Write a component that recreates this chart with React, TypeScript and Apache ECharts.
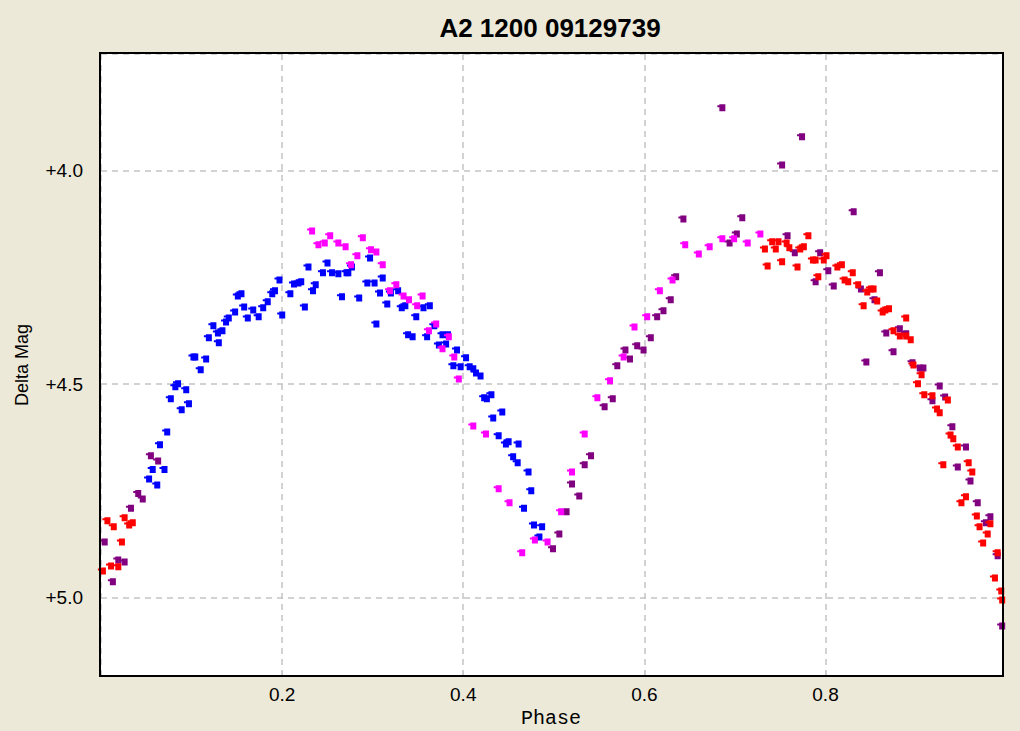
import React, { useEffect, useRef } from 'react';
import * as echarts from 'echarts';

const TITLE = 'A2 1200 09129739';
const X_NAME = 'Phase';
const Y_NAME = 'Delta Mag';

const X_MIN = 0;
const X_MAX = 0.996;
const Y_MIN = 3.726;
const Y_MAX = 5.184;

// [phase, delta mag]
const bluePoints: [number, number][] = [
  [0.052, 4.722], [0.061, 4.736], [0.056, 4.700], [0.069, 4.700], [0.064, 4.642],
  [0.072, 4.612], [0.076, 4.534], [0.088, 4.560], [0.096, 4.546], [0.081, 4.506],
  [0.084, 4.499], [0.093, 4.513], [0.109, 4.466], [0.103, 4.436], [0.115, 4.441],
  [0.101, 4.436], [0.118, 4.391], [0.129, 4.403], [0.123, 4.363], [0.128, 4.380],
  [0.133, 4.375], [0.137, 4.354], [0.140, 4.345], [0.147, 4.331], [0.150, 4.293],
  [0.154, 4.288], [0.157, 4.319], [0.161, 4.345], [0.167, 4.326], [0.173, 4.342],
  [0.178, 4.321], [0.183, 4.307], [0.188, 4.288], [0.191, 4.281], [0.196, 4.256],
  [0.199, 4.338], [0.208, 4.288], [0.212, 4.265], [0.217, 4.263], [0.220, 4.260],
  [0.224, 4.319], [0.228, 4.225], [0.233, 4.281], [0.236, 4.267], [0.244, 4.239],
  [0.249, 4.216], [0.254, 4.239], [0.261, 4.241], [0.270, 4.239], [0.272, 4.239],
  [0.276, 4.225], [0.296, 4.204], [0.265, 4.295], [0.284, 4.298], [0.293, 4.263],
  [0.301, 4.263], [0.310, 4.251], [0.307, 4.286], [0.315, 4.312], [0.303, 4.359],
  [0.327, 4.281], [0.319, 4.286], [0.331, 4.321], [0.335, 4.316], [0.347, 4.342],
  [0.355, 4.321], [0.362, 4.316], [0.338, 4.384], [0.343, 4.389], [0.359, 4.389],
  [0.367, 4.363], [0.376, 4.384], [0.382, 4.384], [0.372, 4.408], [0.380, 4.406],
  [0.392, 4.420], [0.388, 4.457], [0.396, 4.459], [0.402, 4.438], [0.406, 4.459],
  [0.410, 4.464], [0.413, 4.474], [0.418, 4.481], [0.422, 4.532], [0.425, 4.534],
  [0.430, 4.525], [0.432, 4.579], [0.442, 4.565], [0.438, 4.621], [0.446, 4.640],
  [0.449, 4.635], [0.460, 4.640], [0.454, 4.670], [0.459, 4.684], [0.471, 4.706],
  [0.474, 4.750], [0.466, 4.791], [0.477, 4.830], [0.486, 4.834], [0.483, 4.858],
];

const magentaPoints: [number, number][] = [
  [0.232, 4.141], [0.239, 4.173], [0.246, 4.169], [0.252, 4.152], [0.261, 4.169],
  [0.269, 4.178], [0.288, 4.157], [0.282, 4.199], [0.275, 4.220], [0.297, 4.185],
  [0.303, 4.190], [0.310, 4.220], [0.318, 4.281], [0.325, 4.267], [0.333, 4.293],
  [0.339, 4.302], [0.348, 4.316], [0.354, 4.293], [0.369, 4.359], [0.361, 4.375],
  [0.383, 4.389], [0.376, 4.417], [0.389, 4.436], [0.394, 4.488], [0.410, 4.598],
  [0.424, 4.617], [0.438, 4.745], [0.450, 4.778], [0.464, 4.895], [0.478, 4.865],
  [0.492, 4.870], [0.507, 4.799], [0.519, 4.706], [0.533, 4.617], [0.547, 4.532],
  [0.561, 4.492], [0.576, 4.436], [0.588, 4.366], [0.602, 4.342], [0.616, 4.281],
  [0.630, 4.256], [0.644, 4.173], [0.659, 4.195], [0.671, 4.178], [0.685, 4.159],
  [0.698, 4.159], [0.713, 4.169], [0.727, 4.148],
];

const purplePoints: [number, number][] = [
  [0.003, 4.870], [0.012, 4.963], [0.018, 4.912], [0.025, 4.917], [0.032, 4.791],
  [0.040, 4.756], [0.045, 4.769], [0.054, 4.668], [0.062, 4.680],
  [0.498, 4.886], [0.505, 4.851], [0.513, 4.799], [0.527, 4.762], [0.519, 4.734],
  [0.533, 4.689], [0.540, 4.668], [0.555, 4.553], [0.564, 4.534], [0.569, 4.457],
  [0.578, 4.420], [0.583, 4.441], [0.591, 4.410], [0.598, 4.420], [0.606, 4.391],
  [0.613, 4.342], [0.620, 4.328], [0.628, 4.302], [0.634, 4.248], [0.642, 4.113],
  [0.685, 3.852], [0.773, 3.920], [0.751, 3.986], [0.693, 4.169], [0.701, 4.148],
  [0.707, 4.110], [0.757, 4.152], [0.765, 4.192], [0.793, 4.192], [0.802, 4.234],
  [0.788, 4.260], [0.808, 4.270], [0.838, 4.277], [0.830, 4.096], [0.859, 4.239],
  [0.853, 4.302], [0.866, 4.380], [0.881, 4.370], [0.888, 4.382], [0.874, 4.424],
  [0.844, 4.448], [0.895, 4.450], [0.903, 4.462], [0.907, 4.462], [0.925, 4.504],
  [0.931, 4.530], [0.917, 4.539], [0.939, 4.600], [0.954, 4.647], [0.945, 4.694],
  [0.959, 4.727], [0.967, 4.778], [0.981, 4.811], [0.976, 4.825], [0.989, 4.902],
  [0.994, 5.067],
];

const redPoints: [number, number][] = [
  [0.006, 4.820], [0.013, 4.834], [0.025, 4.813], [0.030, 4.830], [0.034, 4.825],
  [0.022, 4.870], [0.001, 4.938], [0.010, 4.926], [0.018, 4.928],
  [0.732, 4.183], [0.735, 4.223], [0.740, 4.166], [0.744, 4.183], [0.747, 4.166],
  [0.751, 4.213], [0.756, 4.169], [0.759, 4.180], [0.768, 4.225], [0.771, 4.183],
  [0.775, 4.178], [0.780, 4.152], [0.785, 4.209], [0.788, 4.209], [0.791, 4.248],
  [0.797, 4.209], [0.800, 4.199], [0.812, 4.225], [0.817, 4.220], [0.820, 4.256],
  [0.824, 4.260], [0.829, 4.239], [0.835, 4.267], [0.841, 4.316], [0.845, 4.284],
  [0.849, 4.277], [0.852, 4.277], [0.856, 4.305], [0.862, 4.331], [0.865, 4.326],
  [0.869, 4.323], [0.888, 4.345], [0.874, 4.375], [0.881, 4.387], [0.888, 4.387],
  [0.893, 4.396], [0.896, 4.455], [0.905, 4.478], [0.901, 4.499], [0.908, 4.525],
  [0.917, 4.527], [0.922, 4.558], [0.925, 4.567], [0.934, 4.537], [0.937, 4.619],
  [0.940, 4.628], [0.945, 4.647], [0.929, 4.689], [0.957, 4.684], [0.961, 4.706],
  [0.954, 4.764], [0.949, 4.778], [0.966, 4.809], [0.969, 4.834], [0.981, 4.827],
  [0.978, 4.851], [0.973, 4.872], [0.989, 4.895], [0.986, 4.954], [0.993, 4.985],
  [0.994, 5.006],
];

const MARKER = 'path://M2,0L8,0L8,7L2,7L2,3L0,3L0,1L2,1Z';

const GRID_LEFT = 101;
const GRID_TOP = 54;
const GRID_W = 902;
const GRID_H = 622;

const mkSeries = (name: string, data: [number, number][], color: string) => ({
  name,
  type: 'scatter',
  data,
  symbol: MARKER,
  symbolSize: [8, 7],
  itemStyle: { color, opacity: 1 },
  silent: true,
});

export default function App() {
  const ref = useRef<HTMLDivElement>(null);
  useEffect(() => {
    document.body.style.margin = '0';
    const chart = echarts.init(ref.current!, null, { renderer: 'svg' });
    chart.setOption({
      animation: false,
      backgroundColor: '#ECE9D8',
      title: {
        text: TITLE,
        left: 545,
        top: 10,
        textAlign: 'center',
        textStyle: {
          fontFamily: 'Liberation Sans',
          fontWeight: 'bold',
          fontSize: 26,
          color: '#000',
        },
      },
      grid: {
        left: GRID_LEFT,
        top: GRID_TOP,
        width: GRID_W,
        height: GRID_H,
        show: true,
        backgroundColor: '#ffffff',
        borderWidth: 0,
      },
      xAxis: {
        type: 'value',
        min: X_MIN,
        max: X_MAX,
        interval: 0.2,
        axisLine: { show: false },
        axisTick: { show: true, inside: true, length: 5, lineStyle: { color: '#c8c8c8', width: 1 } },
        splitLine: { show: true, lineStyle: { color: '#c4c4c4', type: [6, 5], width: 1.5 } },
        axisLabel: {
          margin: 9,
          color: '#000',
          fontFamily: 'Liberation Sans',
          fontSize: 19,
          formatter: (v: number) =>
            v > 0.01 && Math.abs(v * 5 - Math.round(v * 5)) < 1e-6 ? v.toFixed(1) : '',
        },
      },
      yAxis: {
        type: 'value',
        inverse: true,
        min: Y_MIN,
        max: Y_MAX,
        splitNumber: 3,
        axisLine: { show: false },
        axisTick: { show: false },
        splitLine: { show: true, lineStyle: { color: '#c4c4c4', type: [6, 5], width: 1.5 } },
        axisLabel: {
          margin: 18,
          color: '#000',
          fontFamily: 'Liberation Sans',
          fontSize: 19,
          formatter: (v: number) =>
            Math.abs(v * 2 - Math.round(v * 2)) < 1e-6 ? '+' + v.toFixed(1) : '',
        },
      },
      graphic: [
        {
          type: 'rect',
          z: 100,
          silent: true,
          shape: { x: GRID_LEFT - 1, y: GRID_TOP - 1, width: GRID_W + 1, height: GRID_H + 1 },
          style: { fill: 'none', stroke: '#000', lineWidth: 2 },
        },
        {
          type: 'text',
          x: 22,
          y: 365,
          rotation: Math.PI / 2,
          style: {
            text: Y_NAME,
            align: 'center',
            verticalAlign: 'middle',
            fontFamily: 'Liberation Sans',
            fontSize: 18,
            fill: '#000',
          },
        },
        {
          type: 'text',
          x: 551,
          y: 718,
          style: {
            text: X_NAME,
            align: 'center',
            verticalAlign: 'middle',
            fontFamily: 'Liberation Mono',
            fontSize: 20,
            fill: '#000',
          },
        },
      ],
      series: [
        mkSeries('purple', purplePoints, '#800080'),
        mkSeries('blue', bluePoints, '#0000ff'),
        mkSeries('magenta', magentaPoints, '#ff00ff'),
        mkSeries('red', redPoints, '#ff0000'),
      ],
    });
    return () => chart.dispose();
  }, []);
  return <div ref={ref} style={{ width: 1020, height: 731 }} />;
}
